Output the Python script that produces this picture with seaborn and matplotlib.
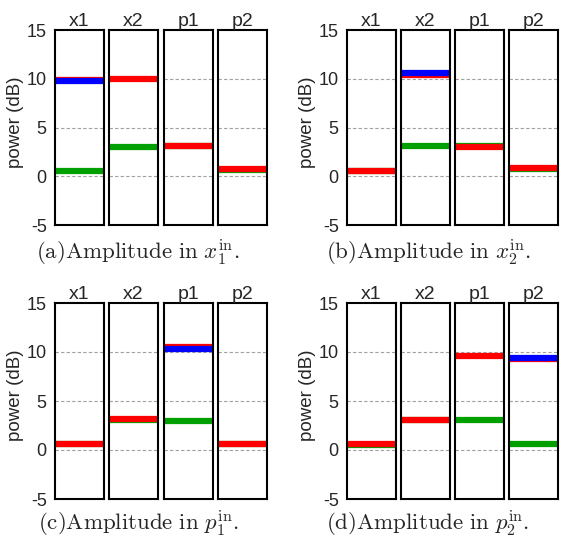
import numpy as np
import pandas as pd
import matplotlib
matplotlib.use("Agg")
import matplotlib.pyplot as plt
import seaborn as sns

# channel names (one box per channel)
channels = ["x1", "x2", "p1", "p2"]

# mean power level (dB) of each trace, per channel; None = no trace
green_a = [0.5, 3.0, 3.1, 0.6]
red_a = [9.85, 10.0, 3.15, 0.7]
blue_a = [9.75, None, None, None]

green_b = [0.55, 3.1, 3.1, 0.7]
red_b = [0.5, 10.4, 3.0, 0.8]
blue_b = [None, 10.6, None, None]

green_c = [0.6, 3.1, 3.0, 0.6]
red_c = [0.65, 3.2, 10.5, 0.65]
blue_c = [None, None, 10.3, None]

green_d = [0.5, 3.1, 3.05, 0.6]
red_d = [0.6, 3.1, 9.6, 9.25]
blue_d = [None, None, None, 9.4]

captions = [r"$\mathrm{(a)Amplitude\ in\ }x_1^{\mathrm{in}}\mathrm{.}$",
            r"$\mathrm{(b)Amplitude\ in\ }x_2^{\mathrm{in}}\mathrm{.}$",
            r"$\mathrm{(c)Amplitude\ in\ }p_1^{\mathrm{in}}\mathrm{.}$",
            r"$\mathrm{(d)Amplitude\ in\ }p_2^{\mathrm{in}}\mathrm{.}$"]

yticks = [-5, 0, 5, 10, 15]
t_span = [0, 1]  # start / end of the recorded time window

panels = [(green_a, red_a, blue_a), (green_b, red_b, blue_b),
          (green_c, red_c, blue_c), (green_d, red_d, blue_d)]

sns.set_style("white")
plt.rcParams["font.family"] = ["Liberation Sans", "DejaVu Sans"]
plt.rcParams["mathtext.fontset"] = "cm"
plt.rcParams["axes.unicode_minus"] = False

W, H = 563, 539
fig = plt.figure(figsize=(W / 100, H / 100), dpi=100)

palette = {"green": "#00a000", "red": "#ff0000", "blue": "#0000ff"}
box_left = [[55, 109, 164, 218], [347, 401, 455, 509]]
box_w = 49
rows = [(30, 225), (303, 499)]
cap_x = [138, 428]
cap_y = [253, 524]
ylab_x = [16, 308]


def px_axes(x0, y0, x1, y1):
    return fig.add_axes([x0 / W, 1 - y1 / H, (x1 - x0) / W, (y1 - y0) / H])


for k, (g, r, b) in enumerate(panels):
    row, col = divmod(k, 2)
    top, bot = rows[row]
    for j, ch in enumerate(channels):
        recs = []
        for name, vals in (("green", g), ("red", r), ("blue", b)):
            if vals[j] is None:
                continue
            for t in t_span:
                recs.append({"t": t, "power": vals[j], "trace": name})
        df = pd.DataFrame(recs)
        x0 = box_left[col][j]
        ax = px_axes(x0, top, x0 + box_w, bot)
        for yv in [0, 5, 10]:
            ax.axhline(yv, color="#a0a0a0", lw=0.8, ls=(0, (3, 2)), zorder=0)
        order = [n for n in ["green", "red", "blue"] if n in set(df["trace"])]
        sns.lineplot(data=df, x="t", y="power", hue="trace", hue_order=order,
                     palette=palette, estimator=None, lw=4.5, legend=False,
                     ax=ax, solid_capstyle="butt")
        ax.set_xlim(t_span)
        ax.set_ylim(-5, 15)
        ax.set_xticks([])
        ax.set_yticks(yticks)
        ax.set_xlabel("")
        ax.set_ylabel("")
        ax.set_title(ch, fontsize=14, pad=3)
        for s in ax.spines.values():
            s.set_linewidth(1.5)
            s.set_color("black")
        ax.tick_params(axis="y", length=0, labelsize=13, pad=6)
        if j != 0:
            ax.set_yticklabels([])
    fig.text(ylab_x[col] / W, 1 - (top + 92) / H, "power (dB)", rotation=90,
             ha="center", va="center", fontsize=13.5)
    fig.text(cap_x[col] / W, 1 - cap_y[row] / H, captions[k],
             ha="center", va="center", fontsize=16.5)

fig.savefig("out.png", dpi=100)
